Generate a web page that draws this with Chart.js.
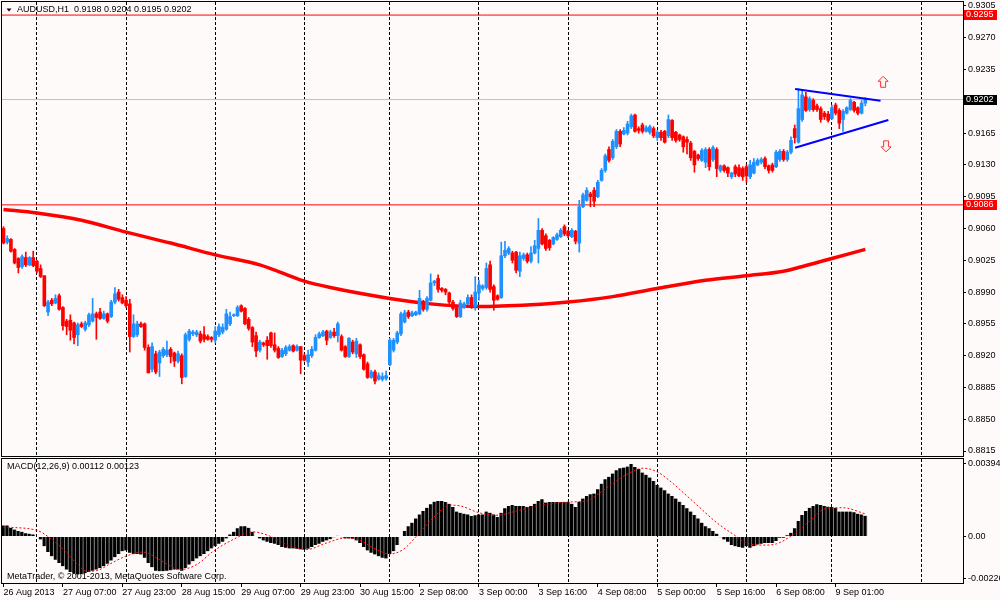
<!DOCTYPE html>
<html lang="en">
<head>
<meta charset="UTF-8">
<title>AUDUSD,H1</title>
<script src="https://cdn.jsdelivr.net/npm/chart.js"></script>
<style>
  html, body { margin: 0; padding: 0; background: #FFFAFA; }
  #wrap { position: relative; width: 1000px; height: 600px; overflow: hidden; }
  #priceBox { position: absolute; left: 0; top: 0; width: 1000px; height: 457px; }
  #macdBox { position: absolute; left: 0; top: 457px; width: 1000px; height: 143px; }
</style>
</head>
<body>
<div id="wrap">
  <div id="priceBox"><canvas id="priceChart"></canvas></div>
  <div id="macdBox"><canvas id="macdChart"></canvas></div>
</div>
<script>
// AUDUSD H1 candles, bar 0 = 26 Aug 15:00, bar 232 = last bar on 9 Sep
const opens = [
  .9060,.9045,.9048,.9037,.9027,.9018,.9028,.9020,.9028,.9024,
  .9016,.9008,.8968,.8981,.8978,.8986,.8973,.8958,.8959,.8956,
  .8943,.8955,.8949,.8954,.8958,.8966,.8968,.8961,.8966,.8963,
  .8979,.8990,.8984,.8981,.8977,.8941,.8943,.8955,.8955,.8929,
  .8905,.8922,.8912,.8920,.8921,.8927,.8923,.8914,.8920,.8897,
  .8938,.8944,.8943,.8944,.8943,.8941,.8940,.8937,.8943,.8946,
  .8949,.8955,.8964,.8964,.8975,.8972,.8960,.8951,.8942,.8926,
  .8934,.8937,.8945,.8932,.8928,.8919,.8922,.8926,.8931,.8926,
  .8930,.8920,.8913,.8920,.8926,.8940,.8942,.8947,.8940,.8946,
  .8942,.8941,.8930,.8919,.8935,.8922,.8932,.8921,.8911,.8896,
  .8902,.8894,.8894,.8895,.8910,.8926,.8935,.8944,.8957,.8968,
  .8964,.8965,.8966,.8980,.8971,.8981,.9000,.9005,.8994,.8993,
  .8989,.8979,.8973,.8963,.8973,.8977,.8984,.8974,.8989,.8994,
  .8995,.9020,.8996,.8986,.8984,.9030,.9033,.9033,.9034,.9013,
  .9027,.9031,.9024,.9033,.9038,.9058,.9052,.9047,.9043,.9048,
  .9051,.9062,.9057,.9051,.9057,.9044,.9084,.9091,.9098,.9102,
  .9095,.9113,.9124,.9147,.9138,.9150,.9167,.9164,.9165,.9172,
  .9185,.9170,.9174,.9167,.9166,.9170,.9160,.9166,.9167,.9162,
  .9179,.9166,.9163,.9161,.9158,.9154,.9145,.9141,.9135,.9133,
  .9147,.9136,.9147,.9124,.9129,.9127,.9117,.9128,.9127,.9126,
  .9128,.9117,.9121,.9130,.9133,.9137,.9129,.9130,.9128,.9136,
  .9145,.9136,.9144,.9170,.9155,.9180,.9205,.9191,.9201,.9195,
  .9192,.9187,.9186,.9181,.9196,.9190,.9180,.9187,.9191,.9199,
  .9193,.9187,.9198
];
const highs = [
  .9062,.9052,.9049,.9038,.9028,.9031,.9034,.9029,.9035,.9025,
  .9020,.9008,.8981,.8983,.8987,.8988,.8974,.8960,.8965,.8957,
  .8956,.8957,.8958,.8967,.8983,.8968,.8972,.8969,.8967,.8981,
  .8995,.8993,.8987,.8985,.8982,.8965,.8958,.8957,.8956,.8932,
  .8934,.8925,.8926,.8929,.8936,.8929,.8924,.8925,.8922,.8945,
  .8949,.8948,.8948,.8947,.8952,.8943,.8941,.8952,.8955,.8955,
  .8971,.8968,.8966,.8975,.8976,.8973,.8962,.8952,.8946,.8937,
  .8935,.8941,.8946,.8945,.8930,.8928,.8931,.8932,.8932,.8932,
  .8930,.8922,.8926,.8930,.8943,.8946,.8948,.8948,.8948,.8950,
  .8957,.8943,.8931,.8940,.8937,.8939,.8933,.8922,.8913,.8904,
  .8904,.8901,.8901,.8903,.8939,.8939,.8947,.8968,.8970,.8970,
  .8969,.8969,.8992,.8981,.8985,.9010,.9003,.9009,.8995,.8994,
  .8990,.8981,.8974,.8981,.8979,.8987,.8987,.9007,.9003,.8998,
  .9022,.9024,.8998,.8987,.9045,.9046,.9040,.9035,.9035,.9034,
  .9033,.9033,.9040,.9047,.9071,.9060,.9054,.9048,.9051,.9055,
  .9060,.9064,.9058,.9060,.9058,.9091,.9099,.9105,.9100,.9105,
  .9113,.9126,.9142,.9150,.9158,.9169,.9169,.9171,.9178,.9186,
  .9186,.9172,.9176,.9173,.9174,.9172,.9168,.9168,.9168,.9185,
  .9180,.9167,.9164,.9162,.9161,.9156,.9146,.9142,.9148,.9149,
  .9149,.9151,.9149,.9130,.9130,.9128,.9122,.9130,.9130,.9128,
  .9130,.9135,.9137,.9137,.9138,.9139,.9130,.9132,.9146,.9147,
  .9147,.9146,.9161,.9174,.9214,.9213,.9210,.9205,.9203,.9197,
  .9194,.9189,.9189,.9196,.9198,.9192,.9191,.9194,.9203,.9200,
  .9194,.9201,.9204
];
const lows = [
  .9043,.9043,.9034,.9021,.9011,.9016,.9018,.9019,.9018,.9011,
  .9006,.8974,.8964,.8975,.8977,.8970,.8948,.8943,.8937,.8933,
  .8931,.8951,.8947,.8952,.8957,.8938,.8960,.8960,.8956,.8962,
  .8977,.8980,.8977,.8973,.8924,.8940,.8941,.8951,.8926,.8901,
  .8902,.8900,.8897,.8918,.8919,.8912,.8908,.8912,.8889,.8896,
  .8936,.8942,.8941,.8934,.8935,.8937,.8935,.8934,.8941,.8944,
  .8948,.8953,.8963,.8963,.8968,.8954,.8948,.8930,.8919,.8924,
  .8930,.8916,.8929,.8924,.8917,.8918,.8920,.8925,.8924,.8925,
  .8900,.8914,.8908,.8918,.8925,.8939,.8941,.8932,.8939,.8940,
  .8935,.8925,.8918,.8918,.8922,.8918,.8917,.8904,.8895,.8895,
  .8889,.8893,.8892,.8893,.8909,.8924,.8933,.8942,.8956,.8961,
  .8963,.8964,.8965,.8969,.8969,.8980,.8997,.8990,.8990,.8987,
  .8977,.8970,.8962,.8962,.8972,.8976,.8972,.8970,.8981,.8992,
  .8993,.8990,.8970,.8981,.8983,.9028,.9031,.9022,.9011,.9007,
  .9025,.9022,.9022,.9032,.9022,.9042,.9036,.9036,.9042,.9047,
  .9050,.9052,.9050,.9050,.9043,.9034,.9083,.9090,.9084,.9084,
  .9094,.9112,.9122,.9133,.9136,.9148,.9150,.9163,.9163,.9170,
  .9166,.9165,.9165,.9166,.9164,.9160,.9157,.9157,.9154,.9160,
  .9157,.9155,.9156,.9144,.9142,.9135,.9122,.9135,.9134,.9127,
  .9124,.9134,.9117,.9122,.9122,.9117,.9115,.9117,.9117,.9113,
  .9111,.9115,.9120,.9129,.9131,.9126,.9121,.9122,.9127,.9134,
  .9134,.9134,.9142,.9154,.9154,.9178,.9189,.9189,.9189,.9189,
  .9177,.9180,.9177,.9180,.9185,.9170,.9167,.9186,.9190,.9188,
  .9185,.9186,.9195
];
const closes = [
  .9044,.9049,.9035,.9022,.9017,.9029,.9020,.9028,.9019,.9013,
  .9007,.8975,.8979,.8977,.8983,.8971,.8953,.8952,.8948,.8940,
  .8954,.8952,.8956,.8965,.8966,.8962,.8961,.8966,.8958,.8979,
  .8988,.8982,.8978,.8975,.8941,.8955,.8955,.8952,.8929,.8901,
  .8930,.8902,.8924,.8927,.8926,.8919,.8914,.8922,.8896,.8943,
  .8947,.8946,.8946,.8936,.8938,.8938,.8938,.8947,.8952,.8951,
  .8966,.8963,.8965,.8973,.8969,.8955,.8950,.8935,.8925,.8935,
  .8932,.8931,.8931,.8926,.8918,.8926,.8929,.8930,.8925,.8930,
  .8915,.8915,.8921,.8927,.8940,.8944,.8946,.8937,.8946,.8942,
  .8955,.8926,.8919,.8939,.8924,.8936,.8919,.8905,.8896,.8902,
  .8892,.8898,.8897,.8898,.8937,.8937,.8945,.8966,.8967,.8963,
  .8967,.8968,.8983,.8971,.8983,.9000,.9002,.8993,.8992,.8990,
  .8979,.8972,.8963,.8978,.8977,.8984,.8975,.8990,.8998,.8997,
  .9016,.8993,.8981,.8982,.9030,.9036,.9038,.9025,.9014,.9030,
  .9031,.9024,.9033,.9041,.9058,.9043,.9038,.9039,.9050,.9053,
  .9058,.9054,.9052,.9058,.9046,.9084,.9097,.9102,.9095,.9090,
  .9111,.9124,.9140,.9135,.9156,.9167,.9153,.9168,.9175,.9184,
  .9167,.9168,.9167,.9171,.9172,.9162,.9166,.9160,.9155,.9180,
  .9160,.9157,.9158,.9150,.9155,.9138,.9130,.9137,.9146,.9147,
  .9128,.9149,.9126,.9129,.9124,.9121,.9121,.9120,.9118,.9117,
  .9118,.9130,.9133,.9135,.9136,.9128,.9124,.9124,.9144,.9145,
  .9136,.9144,.9157,.9160,.9192,.9207,.9190,.9203,.9191,.9191,
  .9180,.9183,.9179,.9193,.9187,.9176,.9189,.9193,.9201,.9190,
  .9187,.9198,.9202
];

// moving average
const maBars   = [0, 9, 21, 33, 45, 57, 69, 81, 88, 104, 115, 128, 142, 152, 164, 176, 189, 200, 210, 214, 223, 232];
const maValues = [0.9081, 0.9077, 0.9069, 0.9056, 0.9044, 0.9031, 0.9020, 0.9002, 0.8995, 0.8983, 0.8977, 0.8974,
                  0.8976, 0.8979, 0.8985, 0.8994, 0.9003, 0.9008, 0.9013, 0.9017, 0.9027, 0.9037];

// MACD(12,26,9) histogram, one value per bar
const macdHist = [
  0.0006, 0.0006, 0.00047, 0.00038, 0.00029, 0.00025, 0.00018, 0.00015, 0.00011, 0.00002,
  -0.00016, -0.00053, -0.00084, -0.00107, -0.00126, -0.00144, -0.00162, -0.0018, -0.00193, -0.00202,
  -0.00207, -0.00204, -0.002, -0.00193, -0.00186, -0.0018, -0.00171, -0.00162, -0.00149, -0.00131,
  -0.00113, -0.00095, -0.0008, -0.00076, -0.00089, -0.00095, -0.00095, -0.00098, -0.00116, -0.00144,
  -0.00167, -0.00186, -0.00189, -0.00189, -0.00186, -0.00184, -0.0018, -0.0018, -0.00186, -0.00171,
  -0.00153, -0.00135, -0.0012, -0.00107, -0.00095, -0.0008, -0.00065, -0.00053, -0.0004, -0.00029,
  -0.00011, 0.00011, 0.00025, 0.00044, 0.00056, 0.00056, 0.00047, 0.00025, 0.00002, -0.00011,
  -0.00022, -0.00029, -0.00035, -0.0004, -0.00047, -0.00058, -0.00062, -0.00065, -0.00065, -0.00067,
  -0.00071, -0.00071, -0.00067, -0.00058, -0.00047, -0.0004, -0.00029, -0.00022, -0.00015, -0.00005,
  0.00004, -0.00005, -0.00011, -0.00011, -0.00013, -0.00022, -0.00036, -0.00058, -0.00076, -0.00089,
  -0.00098, -0.00107, -0.00116, -0.0012, -0.00095, -0.0008, -0.00047, 0.00002, 0.00029, 0.00056,
  0.00075, 0.00098, 0.0012, 0.00138, 0.00156, 0.00175, 0.00189, 0.00193, 0.00193, 0.00187,
  0.00178, 0.0016, 0.00135, 0.00129, 0.00124, 0.0012, 0.00111, 0.00115, 0.0012, 0.0012,
  0.00135, 0.00129, 0.0012, 0.00106, 0.00129, 0.00153, 0.00166, 0.00171, 0.00166, 0.00166,
  0.00166, 0.0016, 0.00166, 0.00178, 0.00193, 0.00202, 0.00184, 0.00187, 0.00187, 0.00187,
  0.00187, 0.00187, 0.00187, 0.00178, 0.0016, 0.00189, 0.00206, 0.0022, 0.00229, 0.00233,
  0.00256, 0.00287, 0.00311, 0.00324, 0.00342, 0.0036, 0.00371, 0.00375, 0.0038, 0.00394,
  0.00378, 0.00366, 0.00347, 0.00335, 0.0032, 0.00302, 0.0028, 0.00266, 0.00251, 0.00233,
  0.0022, 0.00206, 0.00189, 0.00171, 0.00153, 0.00135, 0.00116, 0.00098, 0.00075, 0.00056,
  0.00044, 0.00029, 0.00015, -0.00004, -0.00016, -0.00029, -0.00047, -0.00053, -0.00058, -0.00062,
  -0.00053, -0.00062, -0.00053, -0.00044, -0.0004, -0.00035, -0.00035, -0.00035, -0.00025, -0.00007,
  -0.00007, 0.00007, 0.0002, 0.00044, 0.00084, 0.00116, 0.00138, 0.00156, 0.00166, 0.00175,
  0.00171, 0.00166, 0.00162, 0.0016, 0.00156, 0.00135, 0.00135, 0.00135, 0.00135, 0.00131,
  0.00124, 0.0012, 0.00112
];
// signal line, read at a set of bars along the dotted red curve
const signalBars = [0, 9, 13, 17, 20, 22.4, 25, 28.7, 33, 37.6, 42, 47.5, 52, 56.5, 61.9, 67.2, 71.7, 76.2, 81.6, 87,
  92.4, 96, 100.4, 104, 107.6, 111.2, 115.7, 120.2, 123, 128, 132.8, 138, 143.5, 152, 157, 160.6, 165, 168.7, 172.2,
  175.8, 179.4, 183, 187.5, 192, 196.5, 200, 204.6, 208.1, 212.6, 217, 221.6, 226, 232];
const signalValues = [0.00051, 0.00033, -0.00016, -0.00089, -0.00153, -0.00189, -0.00186, -0.00149, -0.00107, -0.00085,
  -0.00126, -0.0018, -0.00153, -0.0008, -0.00016, 0.00025, 0.00002, -0.00044, -0.00071, -0.00035,
  -0.00007, -0.00022, -0.00071, -0.00095, -0.00071, 0.00002, 0.00102, 0.0017, 0.00166, 0.00129, 0.00115, 0.00138,
  0.00166, 0.00187, 0.00193, 0.00238, 0.00302, 0.00347, 0.00371, 0.00353, 0.00302, 0.00238, 0.00156, 0.00075,
  0.00011, -0.00035, -0.00047, -0.0004, 0.00011, 0.00084, 0.00153, 0.00156, 0.00123];

// axes
const priceTicks = [0.9305, 0.9270, 0.9235, 0.9165, 0.9130, 0.9095, 0.9060, 0.9025, 0.8990, 0.8955, 0.8920, 0.8885, 0.8850, 0.8815];
const macdTicks = [0.00394, 0, -0.00226];
const macdTickLabels = ['0.00394', '0.00', '-0.00226'];
const dayBars = [9, 33, 57, 81, 104, 128, 152, 176, 200, 223, 247];
const labelBars = [0, 16, 32, 48, 64, 80, 96, 112, 128, 144, 160, 176, 192, 208, 224];
const labelTexts = ['26 Aug 2013', '27 Aug 07:00', '27 Aug 23:00', '28 Aug 15:00', '29 Aug 07:00', '29 Aug 23:00',
  '30 Aug 15:00', '2 Sep 08:00', '3 Sep 00:00', '3 Sep 16:00', '4 Sep 08:00', '5 Sep 00:00', '5 Sep 16:00',
  '6 Sep 08:00', '9 Sep 01:00'];

// drawn objects
const levelValues = [0.9295, 0.9202, 0.9086];
const triUpperBars = [213.1, 236.1], triUpperPrices = [0.92136, 0.92007];
const triLowerBars = [213.1, 238.2], triLowerPrices = [0.91490, 0.91795];
const arrowBars = [236.8, 237.6], arrowPrices = [0.9221, 0.9151], arrowDirs = [1, -1];

// ---------------------------------------------------------------
const X_MIN = -0.4, X_MAX = 258.3;
const UP = '#1E90FF', DOWN = '#FF0000';
const FONT = { family: 'Liberation Sans', size: 9 };
const CANVAS_FONT = '9px "Liberation Sans"';
const levelColors = ['#FF0000', '#C0C0C0', '#FF0000'];
const levelBoxColors = ['#FF0000', '#000000', '#FF0000'];

const isUp = i => closes[i] >= opens[i];
const candleColor = ctx => isUp(ctx.dataIndex) ? UP : DOWN;
const pts = (xs, ys) => xs.map((x, i) => ({ x: x, y: ys[i] }));

const paper = {
  id: 'paper',
  beforeDraw(chart) {
    const c = chart.ctx;
    c.save();
    c.fillStyle = '#FFFAFA';
    c.fillRect(0, 0, chart.width, chart.height);
    c.restore();
  },
  afterDraw(chart) {
    const a = chart.chartArea, c = chart.ctx;
    c.save();
    c.strokeStyle = '#000';
    c.lineWidth = 1;
    c.strokeRect(Math.round(a.left) - 0.5, Math.round(a.top) - 0.5,
      Math.round(a.right - a.left) + 1, Math.round(a.bottom - a.top) + 1);
    c.restore();
  }
};

function fixedAxis(size) {
  return s => {
    if (s.isHorizontal()) s.height = size; else s.width = size;
    s.paddingTop = s.paddingBottom = s.paddingLeft = s.paddingRight = 0;
  };
}

const priceMarks = {
  id: 'priceMarks',
  afterDraw(chart) {
    const c = chart.ctx, xs = chart.scales.x, ys = chart.scales.y, a = chart.chartArea;
    c.save();
    c.font = CANVAS_FONT;
    c.textBaseline = 'middle';
    // level boxes on the price axis
    levelValues.forEach((v, k) => {
      const py = Math.round(ys.getPixelForValue(v));
      c.fillStyle = levelBoxColors[k];
      c.fillRect(a.right + 1, py - 5, 33, 10);
      c.fillStyle = '#FFF';
      c.fillText(v.toFixed(4), a.right + 3, py);
    });
    // hollow breakout arrows
    arrowBars.forEach((b, k) => {
      const cx = xs.getPixelForValue(b), cy = ys.getPixelForValue(arrowPrices[k]), d = arrowDirs[k];
      const shape = [[0, -6], [5, -1], [2.5, -1], [2.5, 5], [-2.5, 5], [-2.5, -1], [-5, -1]];
      c.beginPath();
      shape.forEach(([dx, dy], j) => {
        const px = cx + dx, py = cy + dy * d;
        if (j === 0) c.moveTo(px, py); else c.lineTo(px, py);
      });
      c.closePath();
      c.fillStyle = '#FFF4F4';
      c.fill();
      c.strokeStyle = '#FF3030';
      c.lineWidth = 1;
      c.stroke();
    });
    // symbol header
    c.fillStyle = '#000';
    c.beginPath();
    c.moveTo(6.5, 8.5); c.lineTo(11.5, 8.5); c.lineTo(9, 11.5); c.closePath();
    c.fill();
    const n = opens.length - 1;
    c.fillText('AUDUSD,H1  ' + [opens[n], highs[n], lows[n], closes[n]].map(v => v.toFixed(4)).join(' '), 17, 10);
    c.restore();
  }
};

const macdText = {
  id: 'macdText',
  beforeDatasetsDraw(chart) {
    const c = chart.ctx;
    c.save();
    c.font = CANVAS_FONT;
    c.textBaseline = 'middle';
    c.fillStyle = '#000';
    c.fillText('MetaTrader, \u00A9 2001-2013, MetaQuotes Software Corp.', 7, 120);
    c.restore();
  },
  afterDraw(chart) {
    const c = chart.ctx;
    c.save();
    c.font = CANVAS_FONT;
    c.textBaseline = 'middle';
    c.fillStyle = '#000';
    c.fillText('MACD(12,26,9) ' + macdHist[macdHist.length - 1].toFixed(5) + ' ' +
      signalValues[signalValues.length - 1].toFixed(5), 7, 10);
    c.restore();
  }
};

const dashedDays = {
  type: 'linear', min: X_MIN, max: X_MAX, bounds: 'data', offset: false,
  afterBuildTicks: s => { s.ticks = dayBars.map(v => ({ value: v })); },
  afterFit: fixedAxis(0),
  ticks: { display: false },
  grid: { display: true, drawTicks: false, offset: false, color: '#000', lineWidth: 1 },
  border: { display: false, dash: [3, 2] }
};

new Chart(document.getElementById('priceChart'), {
  data: {
    datasets: [
      { type: 'line', data: pts(triUpperBars, triUpperPrices), borderColor: '#0000FF', borderWidth: 2, pointRadius: 0, order: 0 },
      { type: 'line', data: pts(triLowerBars, triLowerPrices), borderColor: '#0000FF', borderWidth: 2, pointRadius: 0, order: 0 },
      { type: 'bar', data: opens.map((o, i) => ({ x: i, y: [o, closes[i]] })), backgroundColor: candleColor,
        barThickness: 3, minBarLength: 1, grouped: false, order: 1 },
      { type: 'bar', data: lows.map((l, i) => ({ x: i, y: [l, highs[i]] })), backgroundColor: candleColor,
        barThickness: 1, grouped: false, order: 2 },
      { type: 'line', data: pts(maBars, maValues), borderColor: '#FF0000', borderWidth: 3.5, pointRadius: 0,
        cubicInterpolationMode: 'monotone', order: 3 },
      ...levelValues.map((v, k) => ({ type: 'line', data: [{ x: X_MIN, y: v }, { x: X_MAX, y: v }],
        borderColor: levelColors[k], borderWidth: 1, pointRadius: 0, order: 4 }))
    ]
  },
  options: {
    responsive: true,
    maintainAspectRatio: false,
    animation: false,
    events: [],
    layout: { padding: { left: 2, top: 2, right: 0, bottom: 1 } },
    plugins: { legend: { display: false }, tooltip: { enabled: false } },
    scales: {
      x: dashedDays,
      y: {
        type: 'linear', position: 'right', min: 0.88095, max: 0.93094, bounds: 'data',
        afterBuildTicks: s => { s.ticks = priceTicks.map(v => ({ value: v })); },
        afterFit: fixedAxis(37),
        ticks: { font: FONT, color: '#000', padding: 2, autoSkip: false, callback: v => v.toFixed(4) },
        grid: { display: true, drawOnChartArea: false, drawTicks: true, tickLength: 3, color: '#000', tickColor: '#000' },
        border: { display: true, color: '#000', width: 1 }
      }
    }
  },
  plugins: [paper, priceMarks]
});

new Chart(document.getElementById('macdChart'), {
  data: {
    datasets: [
      { type: 'line', data: pts(signalBars, signalValues), borderColor: '#FF0000', borderWidth: 1, borderDash: [2, 2],
        pointRadius: 0, cubicInterpolationMode: 'monotone', order: 0 },
      { type: 'bar', data: macdHist.map((v, i) => ({ x: i, y: v })), backgroundColor: '#000000',
        borderColor: '#A0A0A0', borderWidth: { left: 0, right: 1, top: 0, bottom: 0 }, borderSkipped: false,
        barPercentage: 1, categoryPercentage: 1, order: 1 }
    ]
  },
  options: {
    responsive: true,
    maintainAspectRatio: false,
    animation: false,
    events: [],
    layout: { padding: { left: 2, top: 2, right: 0, bottom: 0 } },
    plugins: { legend: { display: false }, tooltip: { enabled: false } },
    scales: {
      x: {
        type: 'linear', position: 'bottom', min: X_MIN, max: X_MAX, bounds: 'data', offset: false,
        afterBuildTicks: s => { s.ticks = labelBars.map(v => ({ value: v })); },
        afterFit: fixedAxis(17),
        ticks: { font: FONT, color: '#000', align: 'start', padding: 0, autoSkip: false, maxRotation: 0,
          callback: v => labelTexts[labelBars.indexOf(v)] },
        grid: { display: true, drawOnChartArea: false, drawTicks: true, tickLength: 4, offset: false,
          color: '#000', tickColor: '#000' },
        border: { display: false }
      },
      xg: Object.assign({ axis: 'x', position: 'bottom' }, dashedDays),
      y: {
        type: 'linear', position: 'right', min: -0.00253, max: 0.00421, bounds: 'data',
        afterBuildTicks: s => { s.ticks = macdTicks.map(v => ({ value: v })); },
        afterFit: fixedAxis(37),
        ticks: { font: FONT, color: '#000', padding: 2, autoSkip: false,
          callback: v => macdTickLabels[macdTicks.indexOf(v)] },
        grid: { display: true, drawOnChartArea: false, drawTicks: true, tickLength: 3, color: '#000', tickColor: '#000' },
        border: { display: true, color: '#000', width: 1 }
      }
    }
  },
  plugins: [paper, macdText]
});
</script>
</body>
</html>
